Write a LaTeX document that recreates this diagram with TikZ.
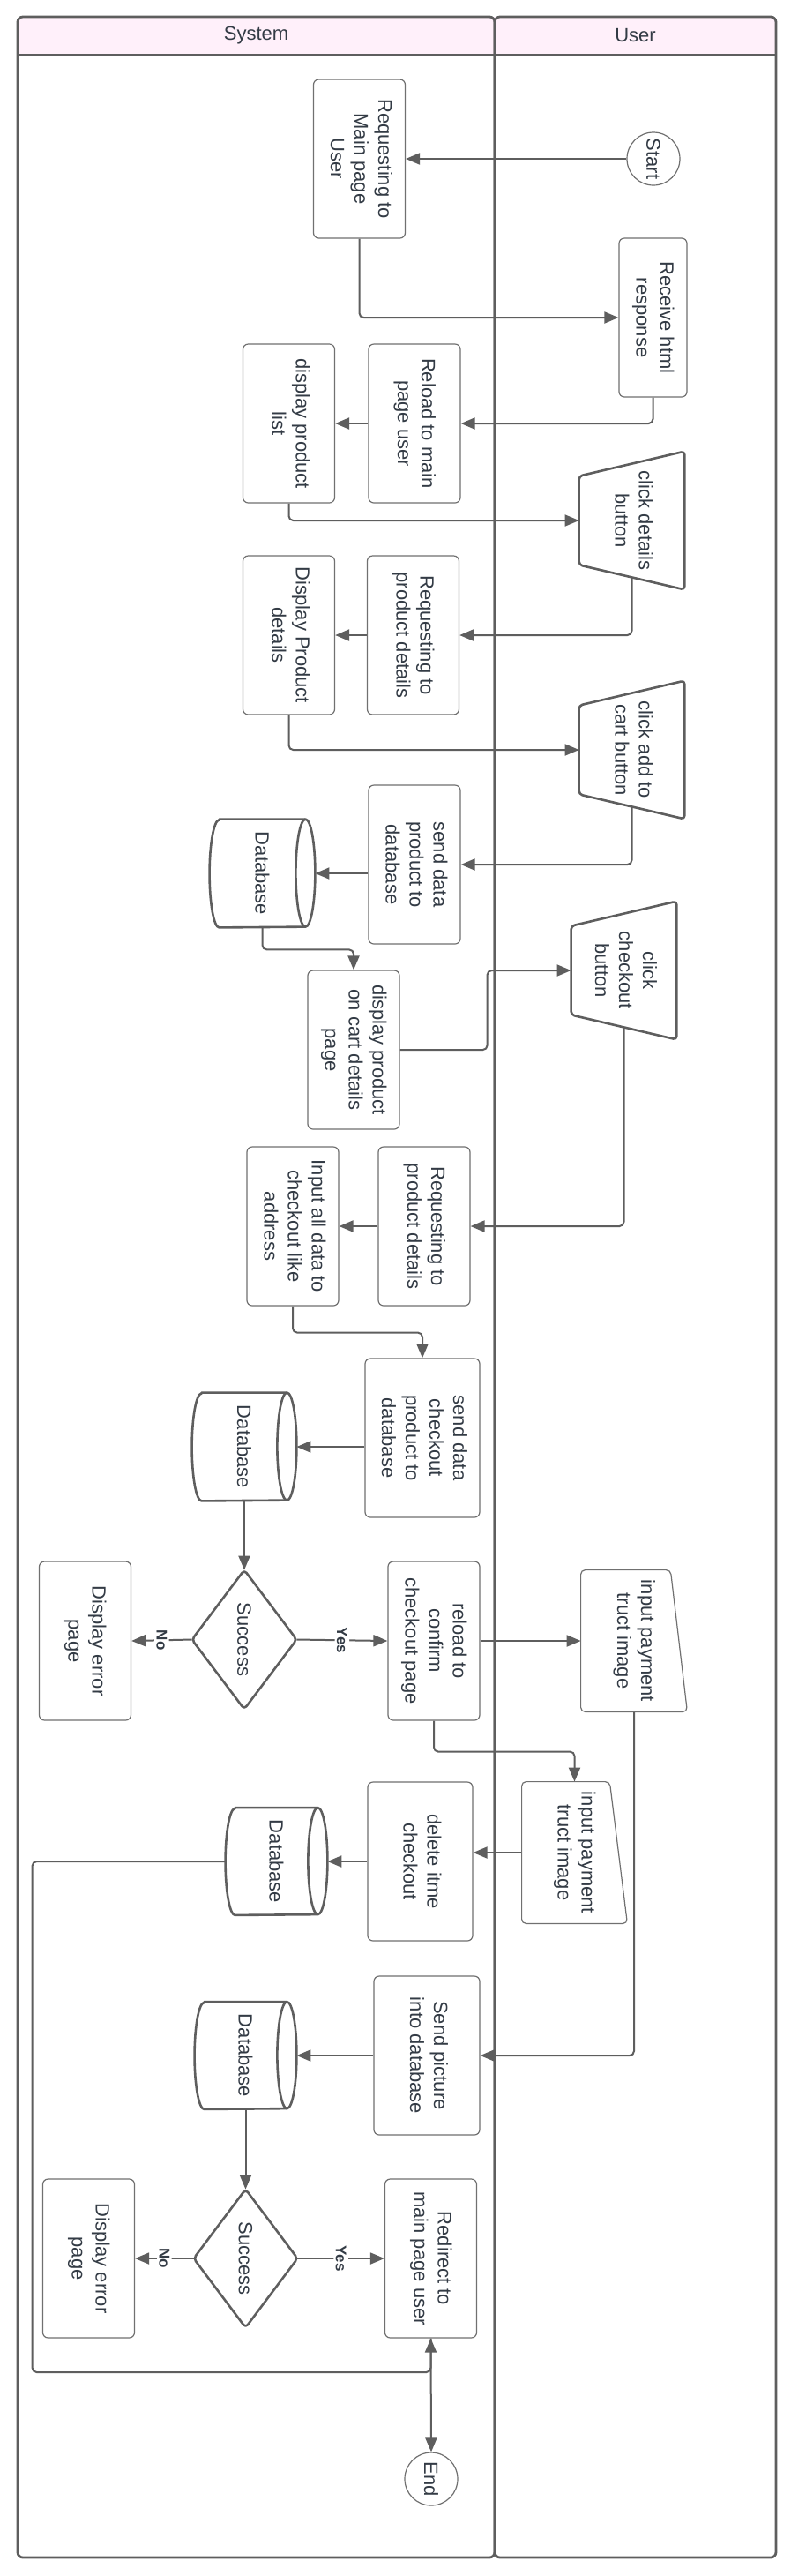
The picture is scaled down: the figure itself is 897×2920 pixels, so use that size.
\documentclass[tikz,border=0pt]{standalone}
\usepackage{fontspec}
\setmainfont{Liberation Sans}
\usepackage{graphicx}
\usetikzlibrary{arrows.meta,calc}
\pgfdeclarelayer{bg}
\pgfdeclarelayer{mid}
\pgfsetlayers{bg,mid,main}
\definecolor{linec}{HTML}{5E5E5E}
\definecolor{boxc}{HTML}{707070}
\definecolor{txtc}{HTML}{333B45}
\definecolor{hdrc}{HTML}{FFF0FA}
\newcommand\rtxt[1]{\rotatebox{-90}{\begin{tabular}{@{}c@{}}#1\end{tabular}}}
\newcommand\trapdraw[1]{\draw[shpline] (#1.north east) -- (#1.south east) -- ([yshift=14pt]#1.south west) -- ([yshift=-14pt]#1.north west) -- cycle;}
\newcommand\midraw[2]{\draw[miline] (#1.north west) -- ([xshift=-#2]#1.north east) -- (#1.south east) -- (#1.south west) -- cycle;}
\newcommand\diadraw[1]{\draw[shpline] (#1.north) -- (#1.east) -- (#1.south) -- (#1.west) -- cycle;}
\newcommand\dbdraw[3]{%
  \draw[dbline] ([xshift=#2]#1.north west) -- ([xshift=-#2]#1.north east) arc[start angle=90,end angle=-90,x radius=#2,y radius=#3] -- ([xshift=#2]#1.south west) arc[start angle=270,end angle=90,x radius=#2,y radius=#3] -- cycle;
  \draw[dbline,fill=none] ([xshift=-#2]#1.north east) arc[start angle=90,end angle=270,x radius=#2,y radius=#3];}
\begin{document}
\begin{tikzpicture}[x=0.5pt,y=-0.5pt,
  txtfont/.style={font=\fontsize{11}{13.5}\selectfont, text=txtc},
  proc/.style={txtfont, draw=boxc, line width=0.6pt, rounded corners=3pt, fill=white, inner sep=0pt, minimum width=52pt, minimum height=90pt},
  shapebox/.style={txtfont, inner sep=0pt, minimum width=59.5pt, minimum height=78pt},
  term/.style={txtfont, circle, draw=boxc, line width=0.6pt, fill=white, minimum size=30pt, inner sep=0pt},
  shpline/.style={draw=linec, line width=1.3pt, fill=white, rounded corners=2pt, line join=round},
  miline/.style={draw=boxc, line width=0.6pt, fill=white, rounded corners=2.5pt, line join=round},
  dbline/.style={draw=linec, line width=1.3pt, fill=white, line join=round},
  lane/.style={draw=linec, line width=1.4pt, rounded corners=3pt},
  conn/.style={draw=linec, line width=1pt, rounded corners=2.5pt, -{Triangle[length=8pt,width=6.5pt]}},
  lbl/.style={font=\bfseries\fontsize{8.5}{9.5}\selectfont, text=txtc, fill=white, inner sep=1.2pt, rotate=-90},
  hdr/.style={font=\fontsize{11}{13.5}\selectfont, text=txtc}
]
\useasboundingbox (0,0) rectangle (897,2920);
\begin{pgfonlayer}{bg}
  \fill[white] (0,0) rectangle (897,2920);
  \fill[hdrc, rounded corners=3pt] (20,62) -- (20,19) -- (880,19) -- (880,62) -- cycle;
  \draw[lane] (20,19) rectangle (561,2899);
  \draw[lane] (561,19) rectangle (880,2899);
  \draw[draw=linec, line width=1.4pt] (20,62) -- (880,62);
\end{pgfonlayer}

\node[hdr] (sysh) at (290.5,40.5) {System};
\node[hdr] (userh) at (720.5,40.5) {User};

\node[proc] (req1) at (407.5,180) {\rtxt{Requesting to\\Main page\\User}};
\node[term] (start) at (741,180) {\rotatebox{-90}{Start}};
\node[proc, minimum width=38.5pt] (recv) at (740.5,360) {\rtxt{Receive html\\response}};
\node[proc] (reload) at (470,480) {\rtxt{Reload to main\\page user}};
\node[proc] (dlist) at (327.5,480) {\rtxt{display product\\list}};
\node[shapebox] (cdet) at (716.5,590) {\rtxt{click details\\button}};
\node[proc] (req2) at (468.5,720) {\rtxt{Requesting to\\product details}};
\node[proc] (ddet) at (327.5,720) {\rtxt{Display Product\\details}};
\node[shapebox] (ccart) at (716.5,850) {\rtxt{click add to\\cart button}};
\node[proc] (sdata) at (470,980) {\rtxt{send data\\product to\\database}};
\node[shapebox, minimum width=59.5pt, minimum height=61pt] (db1) at (297.5,990) {\rotatebox{-90}{Database}};
\node[proc] (dcart) at (401,1190) {\rtxt{display product\\on cart details\\page}};
\node[shapebox] (cchk) at (707.5,1100) {\rtxt{click\\checkout\\button}};
\node[proc] (req3) at (481,1390) {\rtxt{Requesting to\\product details}};
\node[proc] (inp) at (332,1390) {\rtxt{Input all data to\\checkout like\\address}};
\node[proc, minimum width=65pt] (schk) at (479,1630) {\rtxt{send data\\checkout\\product to\\database}};
\node[shapebox, minimum width=59pt, minimum height=61pt] (db2) at (277,1640) {\rotatebox{-90}{Database}};
\node[shapebox, minimum width=59pt, minimum height=78.5pt] (d1) at (277,1858.5) {\rotatebox{-90}{Success}};
\node[proc] (err1) at (96.5,1860) {\rtxt{Display error\\page}};
\node[proc] (rconf) at (492,1860) {\rtxt{reload to\\confirm\\checkout page}};
\node[shapebox, minimum width=60pt, minimum height=80pt] (mi1) at (719,1860) {\rtxt{input payment\\truct image}};
\node[shapebox, minimum width=59.5pt, minimum height=80pt] (mi2) at (651.5,2100) {\rtxt{input payment\\truct image}};
\node[proc, minimum width=59.5pt] (del) at (476.5,2110) {\rtxt{delete itme\\checkout}};
\node[shapebox, minimum width=57.5pt, minimum height=60.5pt] (db3) at (313.5,2110) {\rotatebox{-90}{Database}};
\node[proc, minimum width=60pt] (spic) at (484,2330) {\rtxt{Send picture\\into database}};
\node[shapebox, minimum width=57.5pt, minimum height=60.5pt] (db4) at (278.5,2330) {\rotatebox{-90}{Database}};
\node[shapebox, minimum width=58.5pt, minimum height=78pt] (d2) at (278.5,2560) {\rotatebox{-90}{Success}};
\node[proc] (err2) at (100.5,2560) {\rtxt{Display error\\page}};
\node[proc] (redir) at (488.5,2560) {\rtxt{Redirect to\\main page user}};
\node[term] (endn) at (489,2810) {\rotatebox{-90}{End}};

\begin{pgfonlayer}{mid}
  \trapdraw{cdet}
  \trapdraw{ccart}
  \trapdraw{cchk}
  \midraw{mi1}{9.5pt}
  \midraw{mi2}{10pt}
  \diadraw{d1}
  \diadraw{d2}
  \dbdraw{db1}{5.5pt}{30.5pt}
  \dbdraw{db2}{5.5pt}{30.5pt}
  \dbdraw{db3}{5.5pt}{30.25pt}
  \dbdraw{db4}{5.5pt}{30.25pt}
\end{pgfonlayer}

\begin{pgfonlayer}{bg}
  \draw[conn] (start.west) -- (req1.east);
  \draw[conn] (req1.south) |- (recv.west);
  \draw[conn] (recv.south) |- (reload.east);
  \draw[conn] (reload.west) -- (dlist.east);
  \draw[conn] (dlist.south) |- (cdet.west);
  \draw[conn] ([yshift=7pt]cdet.south) |- (req2.east);
  \draw[conn] (req2.west) -- (ddet.east);
  \draw[conn] (ddet.south) |- (ccart.west);
  \draw[conn] ([yshift=7pt]ccart.south) |- (sdata.east);
  \draw[conn] (sdata.west |- db1.east) -- (db1.east);
  \draw[conn] (db1.south) -- ++(0,25) -| (dcart.north);
  \draw[conn] (dcart.east) -- ++(99,0) |- (cchk.west);
  \draw[conn] ([yshift=7pt]cchk.south) |- (req3.east);
  \draw[conn] (req3.west) -- (inp.east);
  \draw[conn] (inp.south) -- ++(0,30) -| (schk.north);
  \draw[conn] (schk.west |- db2.east) -- (db2.east);
  \draw[conn] (db2.south) -- (d1.north);
  \draw[conn] (d1.west) -- node[lbl] {No} (err1.east);
  \draw[conn] (d1.east) -- node[lbl] {Yes} (rconf.west);
  \draw[conn] (rconf.east) -- (mi1.west);
  \draw[conn] (rconf.south) -- ++(0,35) -| (mi2.north);
  \draw[conn] (mi2.west) -- (mi2.west -| del.east);
  \draw[conn] (del.west) -- (db3.east);
  \draw[conn] (db3.west) -| ++(-219,579) -| (redir.south);
  \draw[conn] (mi1.south) |- (spic.east);
  \draw[conn] (spic.west) -- (db4.east);
  \draw[conn] (db4.south) -- (d2.north);
  \draw[conn] (d2.west) -- node[lbl] {No} (err2.east);
  \draw[conn] (d2.east) -- node[lbl] {Yes} (redir.west);
  \draw[conn] (redir.south) -- (endn.north);
\end{pgfonlayer}
\end{tikzpicture}
\end{document}
